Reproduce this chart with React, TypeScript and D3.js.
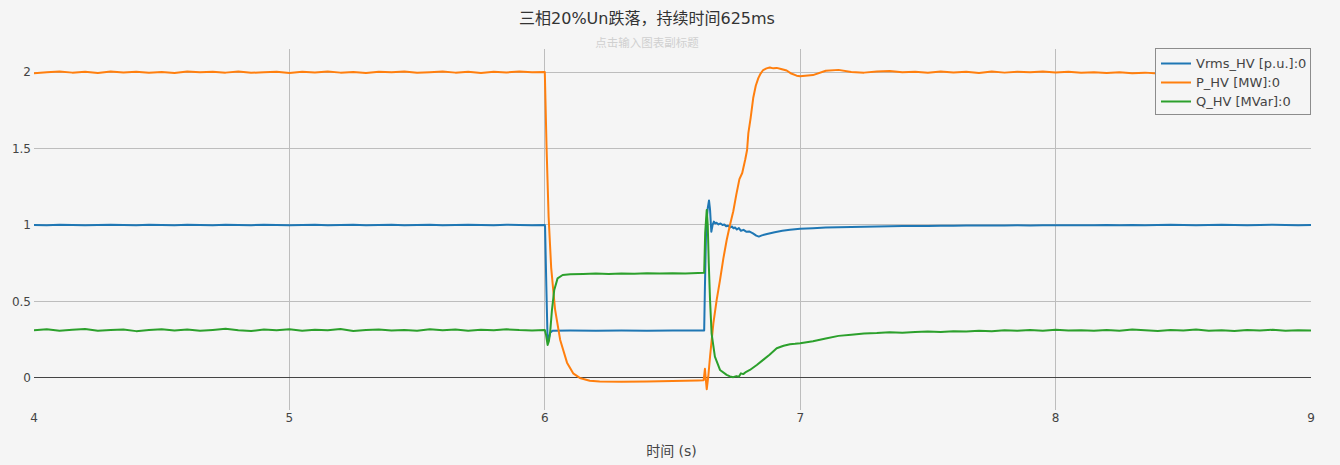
import * as d3 from 'd3'

// sample instants of the steady parts (s)
const preTime = d3.range(0, 41).map((i) => 4 + i * 0.05)
const postTime = d3.range(0, 41).map((i) => 7 + i * 0.05)

// Vrms_HV [p.u.]
const vrmsPre = [
  1.000, 0.999, 1.001, 1.000, 0.998, 1.000, 1.002, 1.000, 0.999, 1.001, 1.000, 0.998, 1.001, 1.000,
  0.999, 1.002, 1.000, 0.999, 1.001, 1.000, 0.998, 1.000, 1.001, 0.999, 1.000, 1.002, 0.999, 1.000,
  1.001, 0.998, 1.000, 1.001, 0.999, 1.000, 1.002, 1.000, 0.999, 1.001, 1.000, 0.999, 1.000,
]
const vrmsFault: [number, number][] = [
  [6.001, 0.99], [6.006, 0.6], [6.011, 0.245], [6.016, 0.26], [6.021, 0.295], [6.03, 0.309],
  [6.1, 0.310], [6.2, 0.309], [6.3, 0.310], [6.4, 0.309], [6.5, 0.310], [6.6, 0.310], [6.624, 0.310],
  [6.627, 0.6], [6.632, 1.0], [6.638, 1.11], [6.643, 1.16], [6.647, 1.1], [6.652, 0.956],
  [6.657, 1.0], [6.662, 1.022], [6.667, 1.010], [6.672, 1.015], [6.68, 1.004], [6.688, 1.010],
  [6.696, 1.000], [6.703, 1.003], [6.71, 0.992], [6.718, 0.995], [6.726, 0.984], [6.733, 0.990],
  [6.739, 0.978], [6.745, 0.984], [6.752, 0.970], [6.76, 0.980], [6.768, 0.962], [6.778, 0.968],
  [6.79, 0.955], [6.8, 0.958], [6.815, 0.945], [6.828, 0.930], [6.838, 0.924], [6.85, 0.932],
  [6.87, 0.941], [6.9, 0.953], [6.93, 0.962], [6.96, 0.969],
]
const vrmsPost = [
  0.976, 0.979, 0.983, 0.985, 0.987, 0.989, 0.990, 0.992, 0.993, 0.993, 0.994, 0.995, 0.995, 0.996,
  0.996, 0.997, 0.997, 0.998, 0.997, 0.998, 0.999, 0.998, 0.999, 0.999, 1.000, 0.999, 1.000, 0.999,
  1.000, 1.001, 1.000, 0.999, 1.000, 1.001, 1.000, 0.999, 1.000, 1.001, 1.000, 0.999, 1.000,
]

// P_HV [MW]
const pPre = [
  1.992, 1.998, 2.003, 1.996, 2.001, 1.994, 2.004, 1.997, 2.002, 1.995, 2.000, 1.993, 2.003, 1.998,
  2.001, 1.996, 2.004, 1.995, 1.999, 2.002, 1.994, 2.001, 1.997, 2.003, 1.996, 2.000, 1.993, 2.002,
  1.998, 2.004, 1.995, 1.999, 2.003, 1.996, 2.001, 1.994, 2.002, 1.997, 2.003, 1.998, 2.000,
]
const pFault: [number, number][] = [
  [6.007, 1.5], [6.015, 1.05], [6.025, 0.72], [6.04, 0.45], [6.06, 0.25], [6.087, 0.10],
  [6.111, 0.03], [6.137, 0.0], [6.176, -0.018], [6.215, -0.024], [6.3, -0.025], [6.4, -0.023],
  [6.5, -0.020], [6.6, -0.016], [6.622, -0.015], [6.627, 0.06], [6.631, -0.02], [6.634, -0.074],
  [6.64, 0.008], [6.647, 0.139], [6.66, 0.357], [6.673, 0.51], [6.686, 0.64], [6.699, 0.78],
  [6.712, 0.90], [6.725, 1.0], [6.738, 1.09], [6.75, 1.2], [6.762, 1.3], [6.773, 1.34],
  [6.785, 1.43], [6.792, 1.49], [6.797, 1.6], [6.806, 1.7], [6.816, 1.83], [6.826, 1.91],
  [6.836, 1.96], [6.845, 1.99], [6.855, 2.013], [6.868, 2.024], [6.881, 2.030], [6.895, 2.024],
  [6.908, 2.027], [6.925, 2.020], [6.947, 2.010], [6.965, 1.99], [6.986, 1.976],
]
const pPost = [
  1.972, 1.980, 2.008, 2.014, 2.000, 1.996, 2.003, 2.006, 1.998, 2.002, 1.995, 2.003, 1.997, 2.001,
  1.994, 2.004, 1.996, 2.002, 1.998, 2.003, 1.997, 2.001, 1.995, 1.999, 1.993, 1.998, 1.992, 1.996,
  1.990, 1.995, 1.991, 1.994, 1.989, 1.993, 1.990, 1.994, 1.988, 1.992, 1.990, 1.993, 1.991,
]

// Q_HV [MVar]
const qPre = [
  0.312, 0.318, 0.309, 0.315, 0.320, 0.308, 0.314, 0.317, 0.306, 0.313, 0.319, 0.310, 0.316, 0.308,
  0.314, 0.321, 0.311, 0.307, 0.316, 0.312, 0.318, 0.309, 0.315, 0.311, 0.320, 0.307, 0.313, 0.317,
  0.310, 0.314, 0.308, 0.319, 0.312, 0.316, 0.309, 0.315, 0.311, 0.318, 0.313, 0.310, 0.314,
]
const qFault: [number, number][] = [
  [6.005, 0.28], [6.011, 0.216], [6.016, 0.24], [6.021, 0.30], [6.028, 0.444], [6.037, 0.575],
  [6.05, 0.651], [6.07, 0.673], [6.1, 0.678], [6.15, 0.680], [6.2, 0.682], [6.25, 0.679],
  [6.3, 0.683], [6.35, 0.681], [6.4, 0.684], [6.45, 0.682], [6.5, 0.685], [6.55, 0.683],
  [6.6, 0.686], [6.624, 0.687], [6.628, 0.95], [6.634, 1.098], [6.638, 1.0], [6.642, 0.75],
  [6.647, 0.51], [6.653, 0.292], [6.666, 0.139], [6.686, 0.052], [6.712, 0.020], [6.725, 0.010],
  [6.738, 0.005], [6.75, 0.012], [6.76, 0.008], [6.768, 0.03], [6.777, 0.025], [6.785, 0.036],
  [6.803, 0.052], [6.83, 0.085], [6.855, 0.118], [6.88, 0.152], [6.908, 0.194], [6.935, 0.210],
  [6.96, 0.220], [6.98, 0.223],
]
const qPost = [
  0.227, 0.240, 0.258, 0.275, 0.283, 0.290, 0.293, 0.298, 0.296, 0.301, 0.303, 0.300, 0.306, 0.304,
  0.309, 0.305, 0.311, 0.308, 0.313, 0.309, 0.315, 0.310, 0.312, 0.308, 0.314, 0.309, 0.316, 0.311,
  0.307, 0.313, 0.310, 0.316, 0.309, 0.312, 0.307, 0.314, 0.310, 0.315, 0.308, 0.312, 0.310,
]

const seriesNames = ['Vrms_HV [p.u.]:0', 'P_HV [MW]:0', 'Q_HV [MVar]:0']
const seriesColors = ['#1f77b4', '#ff7f0e', '#2ca02c']
const xTicks = [4, 5, 6, 7, 8, 9]
const yTicks = [0, 0.5, 1, 1.5, 2]

const title = '三相20%Un跌落，持续时间625ms'
const subtitle = '点击输入图表副标题'
const xTitle = '时间 (s)'

function build(pre: number[], fault: [number, number][], post: number[]): [number, number][] {
  return [
    ...preTime.map((t, i) => [t, pre[i]] as [number, number]),
    ...fault,
    ...postTime.map((t, i) => [t, post[i]] as [number, number]),
  ]
}

const seriesData = [
  build(vrmsPre, vrmsFault, vrmsPost),
  build(pPre, pFault, pPost),
  build(qPre, qFault, qPost),
]

export default function App() {
  const width = 1340
  const height = 465
  const margin = { top: 48, right: 29, bottom: 58, left: 34 }
  const innerW = width - margin.left - margin.right
  const innerH = height - margin.top - margin.bottom

  const x = d3.scaleLinear().domain([4, 9]).range([0, innerW])
  const y = d3.scaleLinear().domain([-0.19, 2.157]).range([innerH, 0])

  const line = d3.line<[number, number]>()
    .x((d) => x(d[0]))
    .y((d) => y(d[1]))

  const font = '"DejaVu Sans", "Noto Sans CJK SC", sans-serif'
  const bg = '#f5f5f5'

  return (
    <div style={{ position: 'absolute', left: 0, top: 0, background: bg }}>
      <svg width={width} height={height} style={{ display: 'block', fontFamily: font }}>
        <rect width={width} height={height} fill={bg} />
        <defs>
          <clipPath id="plot-clip">
            <rect x={0} y={0} width={innerW} height={innerH} />
          </clipPath>
        </defs>

        <text x={647} y={24} textAnchor="middle" fontSize={16} fill="#333">{title}</text>
        <text x={647} y={47} textAnchor="middle" fontSize={11.5} fill="#d0d0d0">{subtitle}</text>

        <g transform={`translate(${margin.left},${margin.top})`}>
          {/* grid */}
          {xTicks.filter((t) => t !== 4 && t !== 9).map((t) => (
            <line key={`gx${t}`} x1={x(t)} x2={x(t)} y1={1} y2={innerH + 3} stroke="#bdbdbd"
              strokeWidth={1} shapeRendering="crispEdges" />
          ))}
          {yTicks.filter((t) => t !== 0).map((t) => (
            <line key={`gy${t}`} x1={0} x2={innerW} y1={y(t)} y2={y(t)} stroke="#bdbdbd"
              strokeWidth={1} shapeRendering="crispEdges" />
          ))}
          <line x1={0} x2={innerW} y1={y(0)} y2={y(0)} stroke="#444" strokeWidth={1} shapeRendering="crispEdges" />

          {/* tick labels */}
          {yTicks.map((t) => (
            <text key={`ty${t}`} x={-3} y={y(t)} dy="0.35em" textAnchor="end" fontSize={12} fill="#444">
              {d3.format('~g')(t)}
            </text>
          ))}
          {xTicks.map((t) => (
            <text key={`tx${t}`} x={x(t)} y={innerH + 15} textAnchor="middle" fontSize={12} fill="#444">
              {t}
            </text>
          ))}

          {/* series */}
          <g clipPath="url(#plot-clip)">
            {seriesData.map((d, i) => (
              <path key={seriesNames[i]} d={line(d) ?? ''} fill="none" stroke={seriesColors[i]}
                strokeWidth={2} strokeLinejoin="round" />
            ))}
          </g>

          <text x={innerW / 2 - 1} y={innerH + 49} textAnchor="middle" fontSize={14} fill="#444">{xTitle}</text>
        </g>

        {/* legend */}
        <g transform="translate(1155.5,48.5)">
          <rect width={155} height={66} fill={bg} stroke="#8c8c8c" strokeWidth={1} />
          {seriesNames.map((name, i) => (
            <g key={name} transform={`translate(0,${15 + i * 19})`}>
              <line x1={5.5} x2={35.5} y1={0} y2={0} stroke={seriesColors[i]} strokeWidth={2} />
              <text x={40.5} y={0} dy="0.35em" fontSize={13} fill="#444">{name}</text>
            </g>
          ))}
        </g>
      </svg>
    </div>
  )
}
